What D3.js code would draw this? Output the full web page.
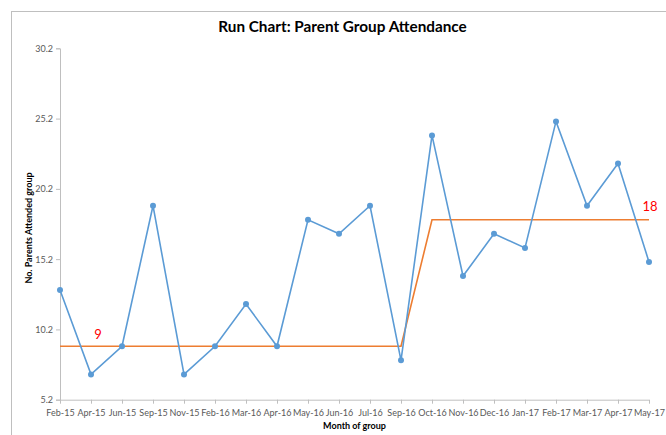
<!DOCTYPE html>
<html><head><meta charset="utf-8">
<script src="https://cdn.jsdelivr.net/npm/d3@7"></script>
<style>
html,body{margin:0;padding:0;background:#fff;overflow:hidden}
svg{display:block}
</style></head>
<body>
<svg id="chart" width="666" height="435"></svg>
<script>
const months = ["Feb-15","Apr-15","Jun-15","Sep-15","Nov-15","Feb-16","Mar-16","Apr-16","May-16","Jun-16","Jul-16","Sep-16","Oct-16","Nov-16","Dec-16","Jan-17","Feb-17","Mar-17","Apr-17","May-17"];
const attendance = [13,7,9,19,7,9,12,9,18,17,19,8,24,14,17,16,25,19,22,15];
const median = [9,9,9,9,9,9,9,9,9,9,9,9,18,18,18,18,18,18,18,18];
const yTicks = [5.2,10.2,15.2,20.2,25.2,30.2];
const yDomain = [5.2,30.2];
const medianLabels = [{idx:1, text:"9"},{idx:19, text:"18"}];
const chartTitle = "Run Chart: Parent Group Attendance";
const xTitle = "Month of group";
const yTitle = "No. Parents Attended group";

const svg = d3.select("#chart");
const font = "Lato, 'Open Sans', sans-serif";
const pLeft = 60, pRight = 649, pTop = 48.3, pBottom = 399.7;

svg.append("rect").attr("x",11.5).attr("y",11.5).attr("width",700).attr("height",500)
  .attr("fill","#fff").attr("stroke","#bfbfbf").attr("stroke-width",1);

const x = d3.scalePoint().domain(months).range([pLeft,pRight]);
const y = d3.scaleLinear().domain(yDomain).range([pBottom,pTop]);

// y axis
const yAxis = svg.append("g").attr("transform",`translate(${pLeft},0)`)
  .call(d3.axisLeft(y).tickValues(yTicks).tickFormat(d3.format(".1f")).tickSize(4).tickPadding(3));
yAxis.select(".domain").attr("stroke","#bfbfbf");
yAxis.selectAll(".tick line").attr("stroke","#bfbfbf");
yAxis.selectAll("text").attr("fill","#595959").style("font-family",font).style("font-size","9px");

// x axis
const xAxis = svg.append("g").attr("transform",`translate(0,${pBottom})`)
  .call(d3.axisBottom(x).tickSize(4).tickPadding(6));
xAxis.select(".domain").attr("stroke","#bfbfbf").attr("d",`M${pLeft},0.5H${pRight}`);
xAxis.selectAll(".tick line").attr("stroke","#bfbfbf");
xAxis.selectAll("text").attr("fill","#595959").style("font-family",font).style("font-size","9px");

// median line
const line = d3.line().x((d,i)=>x(months[i])).y(d=>y(d));
svg.append("path").datum(median).attr("d",line).attr("fill","none")
  .attr("stroke","#ED7D31").attr("stroke-width",1.6);

// data line
svg.append("path").datum(attendance).attr("d",line).attr("fill","none")
  .attr("stroke","#5B9BD5").attr("stroke-width",1.6);
svg.append("g").selectAll("circle").data(attendance).join("circle")
  .attr("cx",(d,i)=>x(months[i])).attr("cy",d=>y(d)).attr("r",3)
  .attr("fill","#5B9BD5");

// median labels
svg.append("g").selectAll("text").data(medianLabels).join("text")
  .attr("x",d=>x(months[d.idx]) + (d.idx===1?7:1))
  .attr("y",d=>y(median[d.idx]) - (d.idx===1?7:9))
  .attr("text-anchor","middle")
  .attr("fill","#FF0000").style("font-family",font).style("font-size","13px")
  .text(d=>d.text);

// titles
svg.append("text").attr("x",342.5).attr("y",32).attr("text-anchor","middle")
  .style("font-family",font).style("font-weight","bold").style("font-size","15.3px")
  .attr("fill","#000").text(chartTitle);
svg.append("text").attr("x",(pLeft+pRight)/2).attr("y",429).attr("text-anchor","middle")
  .style("font-family",font).style("font-weight","bold").style("font-size","9px")
  .attr("fill","#000").text(xTitle);
svg.append("text").attr("transform",`translate(32,${(pTop+pBottom)/2 + 4}) rotate(-90)`)
  .attr("text-anchor","middle")
  .style("font-family",font).style("font-weight","bold").style("font-size","9px")
  .attr("fill","#000").text(yTitle);
</script>
</body></html>
